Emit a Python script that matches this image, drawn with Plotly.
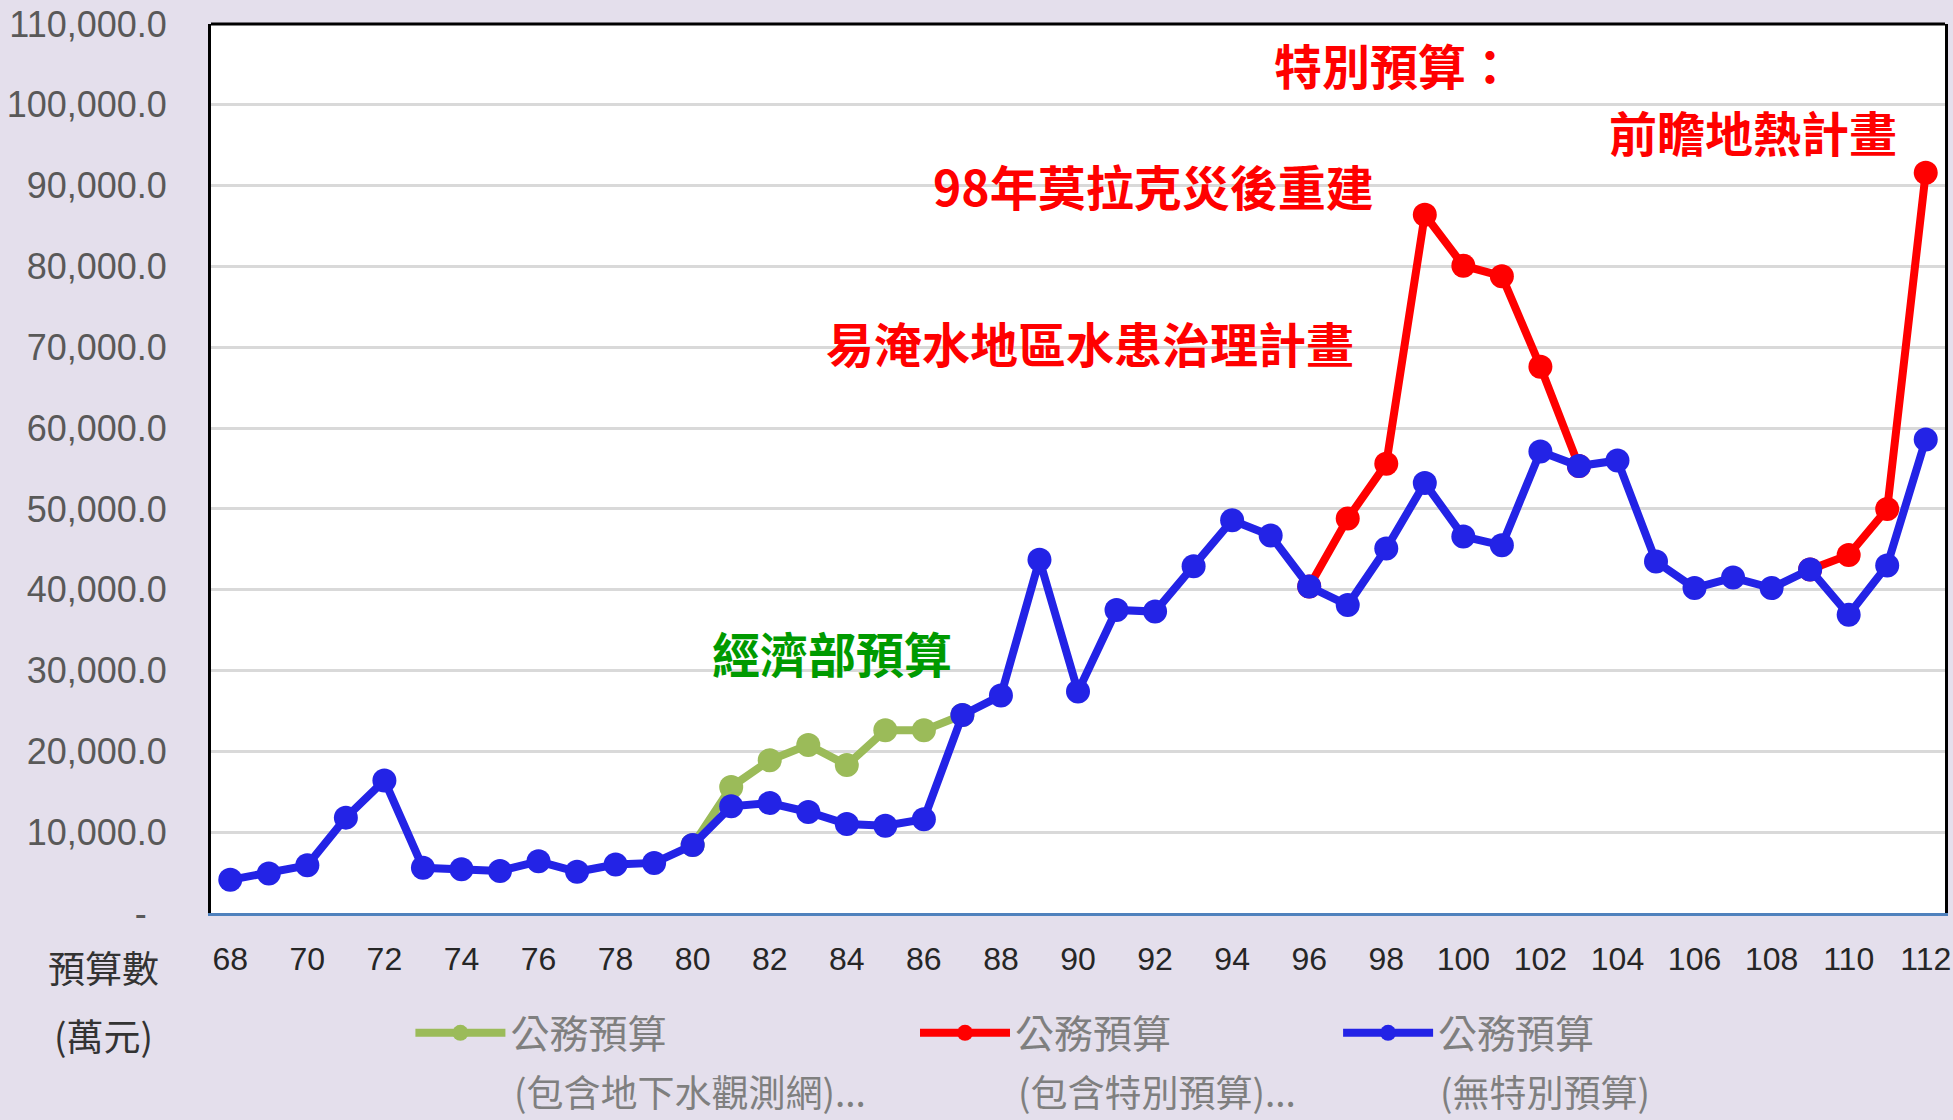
import plotly.graph_objects as go

# 年度 (民國)
years = list(range(68, 113))

# 公務預算(無特別預算) 萬元
no_special = [4100, 4900, 5900, 11800, 16400, 5600, 5400, 5200, 6400, 5100,
              6000, 6200, 8400, 13200, 13600, 12500, 11000, 10800, 11600, 24500,
              26900, 43700, 27400, 37500, 37300, 42900, 48600, 46700, 40400, 38100,
              45100, 53200, 46600, 45500, 57100, 55300, 56000, 43500, 40200, 41500,
              40200, 42500, 36900, 43000, 58600]

# 公務預算(包含地下水觀測網) - only 80~87 differs
with_gw = [None] * 12 + [8400, 15600, 18900, 20800, 18300, 22600, 22600, 24500] + [None] * 25

# 公務預算(包含特別預算) - 96~103, 109~112
with_special = ([None] * 28 + [40400, 48800, 55600, 86400, 80100, 78800, 67600, 55300]
                + [None] * 5 + [42500, 44300, 50000, 91600])

legend_first = ["公務預算", "公務預算", "公務預算"]
legend_second = ["(包含地下水觀測網)...", "(包含特別預算)...", "(無特別預算)"]

y_ticks = list(range(0, 110001, 10000))
y_ticktext = ["-\u00a0\u00a0"] + [f"{v:,.1f}" for v in y_ticks[1:]]
x_ticks = list(range(68, 113, 2))

green = "#9BBB59"
red = "#FF0000"
blue = "#2323E6"
cjk = "Noto Sans CJK TC"

fig = go.Figure()
series = [(with_gw, green, "legend"), (with_special, red, "legend2"), (no_special, blue, "legend3")]
for i, (vals, col, lg) in enumerate(series):
    fig.add_trace(go.Scatter(
        x=years, y=vals, name=legend_first[i], mode="lines+markers",
        line=dict(color=col, width=8), marker=dict(color=col, size=24),
        connectgaps=False, legend=lg,
    ))

# annotations in the plot
notes = [
    ("特別預算：", 95.03, 105000, "left", red),
    ("前瞻地熱計畫", 111.3, 96700, "right", red),
    ("98年莫拉克災後重建", 91.95, 90100, "center", red),
    ("易淹水地區水患治理計畫", 90.3, 70700, "center", red),
    ("經濟部預算", 83.61, 32300, "center", "#009A00"),
]
for txt, x, y, xa, col in notes:
    fig.add_annotation(x=x, y=y, text="<b>" + txt + "</b>", showarrow=False,
                       xanchor=xa, yanchor="middle",
                       font=dict(family=cjk, size=48, color=col))

# axis caption
for txt, x, y in [("預算數", -0.062, -0.0608), ("(萬元)", -0.062, -0.1374)]:
    fig.add_annotation(x=x, y=y, xref="paper", yref="paper", text=txt,
                       showarrow=False, xanchor="center", yanchor="middle",
                       font=dict(family=cjk, size=37, color="#333333"))

# second lines of legend text
for txt, x in zip(legend_second, [0.1737, 0.4645, 0.7075]):
    fig.add_annotation(x=x, y=-0.2005, xref="paper", yref="paper", text=txt,
                       showarrow=False, xanchor="left", yanchor="middle",
                       font=dict(family=cjk, size=37, color="#7F7F7F"))

# top border
fig.add_shape(type="line", xref="paper", yref="paper", x0=0, x1=1, y0=1, y1=1,
              line=dict(color="black", width=3))

leg = dict(orientation="h", yanchor="middle", y=-0.135, xanchor="left",
           bgcolor="rgba(0,0,0,0)", itemwidth=90,
           font=dict(family=cjk, size=39, color="#7F7F7F"))

fig.update_layout(
    width=1953, height=1120,
    margin=dict(l=211, r=8, t=24, b=207),
    paper_bgcolor="#E4DFEC", plot_bgcolor="white",
    showlegend=True,
    legend=dict(leg, x=0.115),
    legend2=dict(leg, x=0.406),
    legend3=dict(leg, x=0.650),
    xaxis=dict(range=[67.5, 112.5], tickvals=x_ticks, showgrid=False, zeroline=False,
               showline=True, linecolor="#4F81BD", linewidth=3, automargin=False,
               ticks="", ticklabelstandoff=16,
               tickfont=dict(family="Liberation Sans", size=32, color="#262626")),
    yaxis=dict(range=[0, 110000], tickvals=y_ticks, ticktext=y_ticktext,
               showgrid=True, gridcolor="#D9D9D9", gridwidth=3, zeroline=False,
               showline=True, linecolor="black", linewidth=3, mirror=True,
               automargin=False, ticks="", ticklabelstandoff=34,
               tickfont=dict(family="Liberation Sans", size=36, color="#595959")),
)

fig.write_html("out.html", config={"displayModeBar": False},
               post_script="document.body.style.margin='0';"
               "document.documentElement.style.overflow='hidden';")
